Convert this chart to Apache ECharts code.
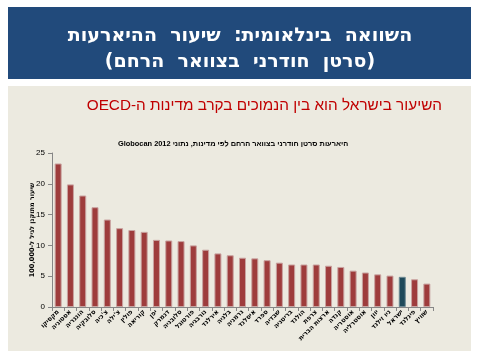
<!DOCTYPE html>
<html><head><meta charset="utf-8">
<script src="https://cdn.jsdelivr.net/npm/echarts@6/dist/echarts.min.js"></script>
<style>html,body{margin:0;padding:0;background:#fff}#c{width:480px;height:360px}</style>
</head><body><div id="c"></div>
<script>
const RLE='\u202B', PDF='\u202C';
const headerLine1 = 'השוואה  בינלאומית:  שיעור  ההיארעות';
const headerLine2 = '(סרטן  חודרני  בצוואר  הרחם)';
const subtitle = 'השיעור בישראל הוא בין הנמוכים בקרב מדינות ה-OECD';
const chartTitle = 'היארעות סרטן חודרני בצוואר הרחם לפי מדינות, נתוני Globocan 2012';
const yAxisName = 'שיעור מתוקנן לגיל ל-100,000';
const countries = ['מקסיקו','אסטוניה','הונגריה','סלובקיה','צ\'כיה','צ\'ילה','פולין','קוריאה','יפן','דנמרק','סלובניה','פורטוגל','נורבגיה','אירלנד','בלגיה','גרמניה','איסלנד','ספרד','שבדיה','בריטניה','הולנד','צרפת','ארצות הברית','קנדה','אוסטריה','אוסטרליה','יוון','ניו זילנד','ישראל','פינלנד','שוויץ'];
const values = [23.3,19.9,18.1,16.2,14.2,12.8,12.5,12.2,10.9,10.8,10.7,10.0,9.3,8.7,8.4,8.0,7.9,7.6,7.2,6.9,6.9,6.9,6.7,6.5,5.9,5.6,5.3,5.1,4.9,4.5,3.8];
const highlight = 'ישראל';
const yTicks = [0,5,10,15,20,25];

const chart = echarts.init(document.getElementById('c'), null, {renderer:'canvas'});
chart.setOption({
  animation:false,
  backgroundColor:'#ffffff',
  graphic:[
    {type:'rect', shape:{x:8,y:7,width:463,height:72}, style:{fill:'#214A7B'}, z:0},
    {type:'rect', shape:{x:8,y:86,width:463,height:265}, style:{fill:'#ECEAE0'}, z:0}
  ],
  title:[
    {text:RLE+headerLine1+PDF, left:'center', top:22, textStyle:{color:'#fff', fontFamily:'DejaVu Sans', fontWeight:'bold', fontSize:19}},
    {text:RLE+headerLine2+PDF, left:'center', top:48, textStyle:{color:'#fff', fontFamily:'DejaVu Sans', fontWeight:'bold', fontSize:19}},
    {text:RLE+subtitle+PDF, right:33, top:93, textStyle:{color:'#C00000', fontFamily:'Liberation Sans', fontWeight:'normal', fontSize:15.3}},
    {text:RLE+chartTitle+PDF, left:113, top:135, textStyle:{color:'#000', fontFamily:'Liberation Sans', fontWeight:'bold', fontSize:7.4}}
  ],
  grid:{left:52, right:47, top:153, bottom:53, containLabel:false},
  xAxis:{type:'category', data:countries,
    axisLine:{lineStyle:{color:'#868686'}},
    axisTick:{show:true, alignWithLabel:false, length:4, lineStyle:{color:'#868686'}},
    axisLabel:{rotate:45, interval:0, fontSize:6.5, fontWeight:'bold', color:'#000', fontFamily:'DejaVu Sans', margin:4,
      formatter: v => RLE+v+PDF}
  },
  yAxis:{type:'value', min:0, max:25, interval:5,
    name:RLE+yAxisName+PDF, nameLocation:'middle', nameGap:16, nameRotate:90, nameMoveOverlap:false,
    nameTextStyle:{fontSize:6.5, fontWeight:'bold', color:'#000', fontFamily:'DejaVu Sans'},
    axisLine:{show:true, lineStyle:{color:'#868686'}},
    axisTick:{show:true, length:4, lineStyle:{color:'#868686'}},
    splitLine:{show:false},
    axisLabel:{fontSize:8, color:'#000', fontFamily:'Liberation Sans', margin:7}
  },
  series:[{type:'bar', barWidth:7,
    data: values.map((v,i)=>({value:v, itemStyle: countries[i]===highlight ? {color:'#1F4A5A', borderColor:'#6E8A94'} : {}})),
    itemStyle:{color:'#9E3C3C', borderColor:'#C9A3A0', borderWidth:1}
  }]
});
</script></body></html>
